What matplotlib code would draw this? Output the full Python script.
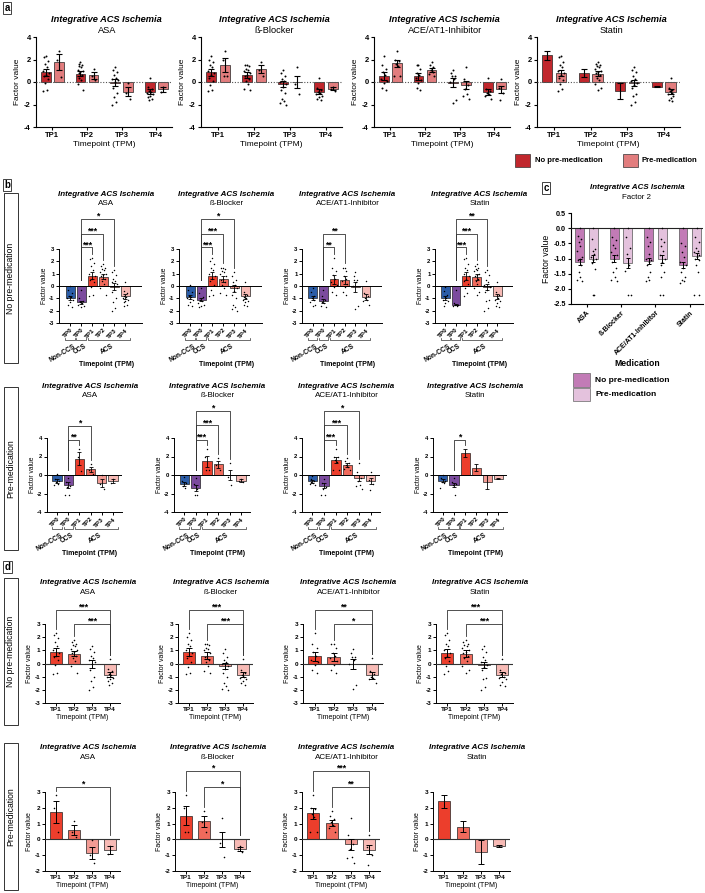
import numpy as np
import matplotlib
matplotlib.use("Agg")
import matplotlib.pyplot as plt
from matplotlib.patches import Rectangle

# ======================= DATA =======================
medications = ["ASA", "ß-Blocker", "ACE/AT1-Inhibitor", "Statin"]
timepoints = ["TP1", "TP2", "TP3", "TP4"]
tp_b_labels = ["TP0", "TP0", "TP1", "TP2", "TP3", "TP4"]
tp_groups = ["Non-CCS", "CCS", "ACS"]
legend_labels = ["No pre-medication", "Pre-medication"]
row_labels = ["No pre-medication", "Pre-medication"]

# ---------- No pre-medication: TP1..TP4 ----------
asa_no_mean = [0.85, 0.75, -0.05, -0.85]
asa_no_sem = [0.30, 0.20, 0.30, 0.20]
asa_no_pts = [
    [2.3, 2.2, 1.9, 1.6, 1.3, 1.0, 0.8, 0.6, 0.5, 0.3, -0.1, -0.7, -0.8],
    [1.8, 1.6, 1.5, 1.4, 1.3, 1.1, 1.0, 0.9, 0.8, 0.6, 0.4, 0.2, -0.2, -0.7],
    [1.3, 1.1, 0.9, 0.6, 0.4, 0.3, 0.15, 0.0, -0.5, -1.0, -1.3, -1.8, -2.0],
    [0.35, -0.4, -0.6, -0.8, -0.9, -1.0, -1.1, -1.2, -1.3, -1.5, -1.6],
]
asa_no_tp0_mean = [-1.0, -1.3]
asa_no_tp0_sem = [0.15, 0.12]
asa_no_tp0_pts = [
    [0.0, -0.3, -0.6, -0.8, -0.9, -1.0, -1.1, -1.3, -1.5, -1.7],
    [-0.3, -1.0, -1.2, -1.3, -1.4, -1.5, -1.6, -1.7],
]

bb_no_mean = [0.85, 0.6, -0.2, -0.85]
bb_no_sem = [0.30, 0.25, 0.25, 0.20]
bb_no_pts = [
    [2.3, 2.0, 1.8, 1.5, 1.3, 1.0, 0.8, 0.6, 0.4, 0.1, -0.3, -0.7, -0.8],
    [1.5, 1.5, 1.4, 1.2, 1.1, 1.0, 0.8, 0.6, 0.5, 0.3, 0.1, -0.2, -0.6, -0.7],
    [1.1, 0.8, 0.5, 0.3, 0.1, 0.0, -0.2, -0.4, -0.7, -1.0, -1.5, -1.7, -1.9, -2.0],
    [0.35, -0.5, -0.7, -0.9, -1.0, -1.1, -1.2, -1.3, -1.5, -1.6],
]
bb_no_tp0_mean = [-0.9, -1.1]
bb_no_tp0_sem = [0.15, 0.15]
bb_no_tp0_pts = [
    [0.05, -0.3, -0.5, -0.8, -0.9, -1.0, -1.1, -1.3, -1.5, -1.6],
    [-0.2, -0.6, -0.9, -1.1, -1.2, -1.4, -1.5, -1.6, -1.7],
]

ace_no_mean = [0.55, 0.5, -0.05, -0.9]
ace_no_sem = [0.35, 0.30, 0.40, 0.25]
ace_no_pts = [
    [2.3, 1.5, 1.2, 0.9, 0.6, 0.3, 0.1, -0.1, -0.5, -0.7],
    [1.5, 1.5, 1.2, 0.8, 0.6, 0.4, 0.2, -0.1, -0.5, -0.7],
    [1.1, 0.8, 0.5, 0.5, 0.3, 0.0, -1.6, -1.9],
    [0.4, -0.6, -0.8, -1.0, -1.1, -1.2, -1.5],
]
ace_no_tp0_mean = [-1.0, -1.2]
ace_no_tp0_sem = [0.15, 0.15]
ace_no_tp0_pts = [
    [-0.2, -0.5, -0.8, -1.0, -1.1, -1.3, -1.5, -1.6],
    [-0.3, -0.8, -1.1, -1.3, -1.4, -1.6, -1.7],
]

sta_no_mean = [0.8, 0.75, -0.1, -0.85]
sta_no_sem = [0.30, 0.25, 0.25, 0.20]
sta_no_pts = [
    [2.3, 2.2, 1.8, 1.5, 1.3, 1.0, 0.8, 0.6, 0.4, 0.2, -0.2, -0.6, -0.8],
    [1.8, 1.6, 1.5, 1.4, 1.3, 1.2, 1.0, 0.9, 0.8, 0.6, 0.4, 0.2, -0.2, -0.5, -0.7],
    [1.3, 1.1, 0.9, 0.5, 0.3, 0.1, -0.1, -0.3, -0.5, -1.1, -1.2, -1.8, -2.0],
    [0.35, -0.5, -0.7, -0.8, -1.0, -1.1, -1.2, -1.4, -1.6, -1.7],
]
sta_no_tp0_mean = [-1.0, -1.5]
sta_no_tp0_sem = [0.15, 0.08]
sta_no_tp0_pts = [
    [-0.1, -0.4, -0.7, -0.9, -1.0, -1.1, -1.2, -1.4, -1.6],
    [-0.3, -1.4, -1.5, -1.5, -1.6, -1.6],
]

# ---------- Pre-medication: TP1..TP4 ----------
asa_pre_mean = [1.75, 0.6, -0.85, -0.65]
asa_pre_sem = [0.70, 0.30, 0.40, 0.25]
asa_pre_pts = [[2.8, 2.0, 0.45], [1.15, 0.5, 0.15], [-0.05, -1.0, -1.5], [-0.4, -0.9]]
asa_pre_tp0_mean = [-0.65, -1.1]
asa_pre_tp0_sem = [0.20, 0.30]
asa_pre_tp0_pts = [[0.1, -0.4, -0.6, -0.8, -1.0, -1.1], [-0.3, -0.8, -1.2, -1.3, -2.2, -2.2]]

bb_pre_mean = [1.5, 1.15, 0.0, -0.6]
bb_pre_sem = [0.60, 0.35, 0.50, 0.15]
bb_pre_pts = [[2.8, 2.0, 0.5, 0.5], [1.8, 1.1, 0.5], [1.35, -0.2, -1.1], [-0.4, -0.6, -0.8]]
bb_pre_tp0_mean = [-0.95, -1.4]
bb_pre_tp0_sem = [0.20, 0.35]
bb_pre_tp0_pts = [[-0.2, -0.6, -0.9, -1.2, -1.4], [-0.3, -1.0, -1.5, -2.2, -2.2]]

ace_pre_mean = [1.65, 1.05, -0.3, -0.65]
ace_pre_sem = [0.35, 0.20, 0.35, 0.30]
ace_pre_pts = [
    [2.8, 2.0, 1.9, 1.6, 1.4, 0.5, 0.5],
    [1.8, 1.5, 1.3, 1.1, 0.9, 0.7, 0.5],
    [1.35, 0.3, -0.3, -0.6, -1.1, -1.2, -1.5],
    [0.3, -0.5, -1.0, -1.6],
]
ace_pre_tp0_mean = [-0.7, -1.15]
ace_pre_tp0_sem = [0.15, 0.30]
ace_pre_tp0_pts = [[-0.1, -0.4, -0.6, -0.8, -0.9, -1.0, -1.1], [-0.4, -0.9, -1.3, -1.5, -2.2, -2.2]]

sta_pre_mean = [2.4, 0.8, -0.8, -0.4]
sta_pre_sem = [0.40, 0.35, 0.75, 0.05]
sta_pre_pts = [[], [], [], []]
sta_pre_tp0_mean = [-0.6, -1.05]
sta_pre_tp0_sem = [0.20, 0.20]
sta_pre_tp0_pts = [[0.0, -0.3, -0.6, -0.8, -0.9, -1.4], [-0.3, -0.8, -1.0, -1.1, -2.2]]

# ---------- Panel c: Factor 2 ----------
c_no_mean = [-1.1, -1.0, -1.07, -1.2]
c_no_sem = [0.10, 0.10, 0.10, 0.10]
c_pre_mean = [-1.0, -1.15, -1.03, -0.93]
c_pre_sem = [0.12, 0.17, 0.13, 0.10]
c_no_pts = [
    [0.0, -0.25, -0.35, -0.45, -0.6, -0.75, -0.95, -1.0, -1.05, -1.2, -1.45, -1.6, -1.7, -1.75],
    [0.0, -0.3, -0.4, -0.55, -0.65, -0.8, -0.9, -1.0, -1.1, -1.3, -1.45, -1.6, -1.7, -1.75],
    [0.0, -0.3, -0.45, -0.6, -0.85, -1.0, -1.05, -1.1, -1.2, -1.45, -1.6, -1.7, -1.75],
    [0.0, -0.5, -0.6, -0.8, -0.95, -1.1, -1.2, -1.3, -1.45, -1.6, -1.7, -1.75, -1.8],
]
c_pre_pts = [
    [0.0, -0.35, -0.7, -0.75, -0.85, -0.95, -1.0, -1.05, -1.15, -1.35, -2.2, -2.2],
    [0.0, -0.3, -0.65, -0.85, -1.2, -1.4, -2.2, -2.2],
    [0.0, -0.35, -0.45, -0.6, -0.75, -0.9, -1.0, -1.1, -1.2, -1.45, -1.6, -2.2, -2.2],
    [0.0, -0.3, -0.45, -0.65, -0.75, -0.8, -0.9, -0.95, -1.0, -1.05, -1.2, -1.45, -2.2, -2.2],
]

no_premed = {
    "ASA": (asa_no_mean, asa_no_sem, asa_no_pts, asa_no_tp0_mean, asa_no_tp0_sem, asa_no_tp0_pts),
    "ß-Blocker": (bb_no_mean, bb_no_sem, bb_no_pts, bb_no_tp0_mean, bb_no_tp0_sem, bb_no_tp0_pts),
    "ACE/AT1-Inhibitor": (ace_no_mean, ace_no_sem, ace_no_pts, ace_no_tp0_mean, ace_no_tp0_sem, ace_no_tp0_pts),
    "Statin": (sta_no_mean, sta_no_sem, sta_no_pts, sta_no_tp0_mean, sta_no_tp0_sem, sta_no_tp0_pts),
}
pre_premed = {
    "ASA": (asa_pre_mean, asa_pre_sem, asa_pre_pts, asa_pre_tp0_mean, asa_pre_tp0_sem, asa_pre_tp0_pts),
    "ß-Blocker": (bb_pre_mean, bb_pre_sem, bb_pre_pts, bb_pre_tp0_mean, bb_pre_tp0_sem, bb_pre_tp0_pts),
    "ACE/AT1-Inhibitor": (ace_pre_mean, ace_pre_sem, ace_pre_pts, ace_pre_tp0_mean, ace_pre_tp0_sem, ace_pre_tp0_pts),
    "Statin": (sta_pre_mean, sta_pre_sem, sta_pre_pts, sta_pre_tp0_mean, sta_pre_tp0_sem, sta_pre_tp0_pts),
}
groups = {"no": no_premed, "pre": pre_premed}
# order of (dark, light) bars per medication in panel a, as in the source
panel_a_order = [("no", "pre"), ("no", "pre"), ("no", "pre"), ("pre", "no")]

# ======================= STYLE =======================
plt.rcParams['font.family'] = ['Liberation Sans', 'DejaVu Sans']
plt.rcParams['font.weight'] = 'bold'
plt.rcParams['axes.unicode_minus'] = False

A_COLS = ["#C1272D", "#E27D7E"]
B_COLS = ["#2B5DA8", "#7B4B9E", "#EC3E2C", "#F06A5C", "#F39C95", "#F7BAB5"]
D_COLS = B_COLS[2:]
C_COLS = ["#C27BB6", "#E4C2DD"]

W, H = 705, 893
fig = plt.figure(figsize=(W / 100, H / 100), dpi=100)


def add_ax(x0, y0, x1, y1):
    return fig.add_axes([x0 / W, 1 - y1 / H, (x1 - x0) / W, (y1 - y0) / H])


def ftext(x, y, s, **kw):
    return fig.text(x / W, 1 - y / H, s, **kw)


def fbox(x0, y0, x1, y1, **kw):
    r = Rectangle((x0 / W, 1 - y1 / H), (x1 - x0) / W, (y1 - y0) / H,
                  transform=fig.transFigure, **kw)
    fig.add_artist(r)


def finish(ax, fs, lw=0.8, tl=2.5):
    for s in ("top", "right"):
        ax.spines[s].set_visible(False)
    for s in ("left", "bottom"):
        ax.spines[s].set_linewidth(lw)
    ax.tick_params(width=lw, length=tl, labelsize=fs, pad=1.2)


PATTERN = [0.0, -0.6, 0.6, -0.3, 0.3, -0.9, 0.9]


def draw_bar(ax, x, m, e, pts, color, width, jit, s=1.6, cap=2.0, elw=0.8,
             edge="#222222", blw=0.5):
    ax.bar(x, m, width=width, color=color, edgecolor=edge, linewidth=blw, zorder=2)
    if len(pts):
        srt = sorted(pts, reverse=True)
        offs = [PATTERN[k % len(PATTERN)] * jit for k in range(len(srt))]
        ax.scatter(np.array(offs) + x, srt, s=s, c="k", linewidths=0, zorder=4)
    ax.errorbar(x, m, yerr=e, fmt="none", ecolor="k", elinewidth=elw,
                capsize=cap, capthick=elw, zorder=5)


def top_of(m, e, pts):
    t = m + e
    if len(pts):
        t = max(t, max(pts))
    return max(t, 0)


def sig(ax, i, j, text, level, tops, gap, fs=6.5, left_min=None):
    yi = min(tops[i] + gap, level)
    if left_min is not None:
        yi = min(max(yi, left_min), level)
    yj = min(tops[j] + gap, level)
    ax.plot([i, i, j, j], [yi, level, level, yj], color="#333333", lw=0.6,
            clip_on=False, zorder=6)
    ax.text((i + j) / 2, level, text, ha="center", va="baseline", fontsize=fs,
            fontweight="bold", clip_on=False)


def titles(ax, sub, y1, y2, fs, x=0.57):
    ax.text(x, y1, "Integrative ACS Ischemia", transform=ax.transAxes, ha="center",
            va="center", fontsize=fs, fontweight="bold", style="italic")
    ax.text(x, y2, sub, transform=ax.transAxes, ha="center", va="center",
            fontsize=fs, fontweight="normal")


# ======================= PANEL a =======================
A_AX = [(36, 37, 172, 127), (201, 37, 342, 127), (374, 37, 510, 127), (537, 37, 680, 127)]
for k, med in enumerate(medications):
    ax = add_ax(*A_AX[k])
    dark, light = panel_a_order[k]
    for gi, (gkey, col, off) in enumerate([(dark, A_COLS[0], -0.19), (light, A_COLS[1], 0.19)]):
        mean, sem, pts = groups[gkey][med][:3]
        for t in range(4):
            draw_bar(ax, t + off, mean[t], sem[t], pts[t], col, 0.28, 0.09,
                     s=2.0, cap=2.2, elw=0.8)
    ax.axhline(0, color="#555555", lw=0.8, ls=(0, (1, 1.5)), zorder=3)
    ax.set_xlim(-0.47, 3.45)
    ax.set_ylim(-4, 4)
    ax.set_yticks([-4, -2, 0, 2, 4])
    ax.set_xticks(range(4))
    ax.set_xticklabels(timepoints)
    finish(ax, 5.5)
    ax.set_xlabel("Timepoint (TPM)", fontsize=6, labelpad=1.5)
    ax.set_ylabel("Factor value", fontsize=6, labelpad=2)
    titles(ax, med, 1.19, 1.07, 6.7, x=0.52)

# legend panel a
fbox(515, 154, 530, 167, facecolor=A_COLS[0], edgecolor="#333333", lw=0.5)
ftext(535, 161, legend_labels[0], fontsize=5.6, va="center", ha="left")
fbox(623, 154, 638, 167, facecolor=A_COLS[1], edgecolor="#333333", lw=0.5)
ftext(641, 161, legend_labels[1], fontsize=5.6, va="center", ha="left")

# ======================= PANEL b =======================
B_AX = [
    [(59, 249, 142, 323), (179, 249, 262, 323), (302, 249, 382, 323), (435, 249, 513, 323)],
    [(47, 438, 122, 512), (174, 438, 250, 512), (302, 438, 380, 512), (433, 438, 507, 512)],
]
B_SIG = [
    [[(1, 4, "*", 5.43), (1, 3, "***", 4.23), (1, 2, "***", 3.14)],
     [(1, 4, "*", 5.43), (1, 3, "***", 4.23), (1, 2, "***", 3.14)],
     [(1, 3, "**", 4.23), (1, 2, "**", 3.14)],
     [(1, 4, "**", 5.43), (1, 3, "***", 4.23), (1, 2, "***", 3.14)]],
    [[(1, 3, "*", 5.3), (1, 2, "**", 3.8)],
     [(1, 4, "*", 6.95), (1, 3, "***", 5.4), (1, 2, "***", 3.8)],
     [(1, 4, "*", 6.95), (1, 3, "***", 5.4), (1, 2, "***", 3.8)],
     [(1, 2, "*", 3.8)]],
]
B_YL = [((-3, 3), [-3, -2, -1, 0, 1, 2, 3]), ((-4, 4), [-4, -2, 0, 2, 4])]
B_XL = [(-1.0, 6.5), (-0.9, 5.8)]
B_GAP = [0.33, 0.43]
B_LEFT = [0.5, 0.55]
B_TY = [(1.73, 1.62), (1.69, 1.58)]

for r, gkey in enumerate(["no", "pre"]):
    for k, med in enumerate(medications):
        ax = add_ax(*B_AX[r][k])
        mean, sem, pts, m0, s0, p0 = groups[gkey][med]
        M = list(m0) + list(mean)
        S = list(s0) + list(sem)
        P = list(p0) + list(pts)
        tops = []
        for i in range(6):
            draw_bar(ax, i, M[i], S[i], P[i], B_COLS[i], 0.82, 0.28,
                     s=1.1, cap=1.5, elw=0.6, blw=0.5)
            tops.append(top_of(M[i], S[i], P[i]))
        ax.axhline(0, color="k", lw=0.7, zorder=3)
        ax.set_xlim(*B_XL[r])
        ax.set_ylim(*B_YL[r][0])
        ax.set_yticks(B_YL[r][1])
        ax.set_xticks(range(6))
        finish(ax, 4.3, lw=0.7, tl=2)
        ax.set_xticklabels(tp_b_labels, rotation=45, ha="right",
                           rotation_mode="anchor", fontsize=4.6)
        ax.set_ylabel("Factor value", fontsize=4.8, labelpad=1)
        trans = ax.get_xaxis_transform()
        yb = -0.235
        for (a, b), name in zip([(0, 0), (1, 1), (2, 5)], tp_groups):
            ax.plot([a - 0.42, a - 0.42, b + 0.42, b + 0.42],
                    [yb + 0.035, yb, yb, yb + 0.035], transform=trans,
                    clip_on=False, color="#333333", lw=0.5)
            ax.text((a + b) / 2 + 0.25, yb - 0.03, name, transform=trans,
                    rotation=30, ha="right", va="top", rotation_mode="anchor",
                    fontsize=4.8)
        ax.text(0.57, -0.555, "Timepoint (TPM)", transform=ax.transAxes,
                ha="center", va="center", fontsize=5)
        for (i, j, txt, lev) in B_SIG[r][k]:
            sig(ax, i, j, txt, lev, tops, B_GAP[r], fs=6.3, left_min=B_LEFT[r])
        titles(ax, med, B_TY[r][0], B_TY[r][1], 5.8)

# ======================= PANEL c =======================
axc = add_ax(571, 213, 703, 304)
for t in range(4):
    draw_bar(axc, t - 0.2, c_no_mean[t], c_no_sem[t], c_no_pts[t], C_COLS[0], 0.26,
             0.085, s=1.4, cap=1.6, elw=0.7, edge="#555555")
    draw_bar(axc, t + 0.2, c_pre_mean[t], c_pre_sem[t], c_pre_pts[t], C_COLS[1], 0.26,
             0.085, s=1.4, cap=1.6, elw=0.7, edge="#555555")
axc.axhline(0, color="#222222", lw=0.8, zorder=3)
axc.set_xlim(-0.45, 3.38)
axc.set_ylim(-2.5, 0.5)
axc.set_yticks([-2.5, -2.0, -1.5, -1.0, -0.5, 0.0, 0.5])
axc.set_yticklabels([f"{v:.1f}" for v in [-2.5, -2.0, -1.5, -1.0, -0.5, 0.0, 0.5]])
axc.set_xticks(range(4))
finish(axc, 5.2)
axc.set_xticklabels(medications, rotation=45, ha="right", rotation_mode="anchor",
                    fontsize=5)
axc.set_ylabel("Factor value", fontsize=6.3, labelpad=1.5)
axc.text(0.5, -0.65, "Medication", transform=axc.transAxes, ha="center",
         va="center", fontsize=6.2)
titles(axc, "Factor 2", 1.275, 1.165, 5.7, x=0.5)
fbox(573, 373, 590, 387, facecolor=C_COLS[0], edgecolor="#666666", lw=0.5)
ftext(595, 380, legend_labels[0], fontsize=6, va="center", ha="left")
fbox(573, 388, 590, 401, facecolor=C_COLS[1], edgecolor="#666666", lw=0.5)
ftext(595, 394.5, legend_labels[1], fontsize=6, va="center", ha="left")

# ======================= PANEL d =======================
D_AX = [
    [(45, 624, 120, 703), (178, 624, 253, 703), (303, 624, 383, 703), (436, 624, 513, 703)],
    [(45, 792, 120, 871), (175, 792, 250, 871), (302, 792, 380, 871), (433, 792, 510, 871)],
]
D_SIG = [
    [[(0, 3, "***", 4.06), (1, 3, "***", 3.02)],
     [(0, 3, "***", 4.06), (1, 3, "***", 3.02)],
     [(0, 3, "**", 4.06), (1, 3, "*", 3.02)],
     [(0, 3, "***", 4.06), (1, 3, "***", 3.02)]],
    [[(0, 3, "*", 3.34)],
     [(0, 3, "*", 4.35), (1, 3, "*", 3.34)],
     [(0, 3, "***", 4.35), (1, 3, "**", 3.34)],
     []],
]
D_YL = [((-3, 3), [-3, -2, -1, 0, 1, 2, 3]), ((-2, 3), [-2, -1, 0, 1, 2, 3])]
D_GAP = [0.3, 0.25]
D_TY = [(1.52, 1.405), (1.557, 1.443)]
for r, gkey in enumerate(["no", "pre"]):
    for k, med in enumerate(medications):
        ax = add_ax(*D_AX[r][k])
        mean, sem, pts = groups[gkey][med][:3]
        tops = []
        for i in range(4):
            draw_bar(ax, i, mean[i], sem[i], pts[i], D_COLS[i], 0.65, 0.2,
                     s=1.3, cap=2.0, elw=0.7, blw=0.5)
            tops.append(top_of(mean[i], sem[i], pts[i]))
        ax.axhline(0, color="#333333", lw=0.8, zorder=3)
        ax.set_xlim(-0.6, 3.57)
        ax.set_ylim(*D_YL[r][0])
        ax.set_yticks(D_YL[r][1])
        ax.set_xticks(range(4))
        ax.set_xticklabels(timepoints)
        finish(ax, 4.6, lw=0.7, tl=2)
        ax.set_xlabel("Timepoint (TPM)", fontsize=5, labelpad=1)
        ax.set_ylabel("Factor value", fontsize=5, labelpad=1)
        for (i, j, txt, lev) in D_SIG[r][k]:
            sig(ax, i, j, txt, lev, tops, D_GAP[r], fs=6.3)
        titles(ax, med, D_TY[r][0], D_TY[r][1], 5.8)

# ======================= frames & panel letters =======================
for (y0, y1, lab) in [(193, 363, row_labels[0]), (387, 550, row_labels[1]),
                      (578, 725, row_labels[0]), (743, 890, row_labels[1])]:
    fbox(4, y0, 18, y1, facecolor="none", edgecolor="#333333", lw=0.7)
    ftext(11, (y0 + y1) / 2, lab, rotation=90, ha="center", va="center",
          fontsize=6.2, fontweight="normal")

for (x, y, s) in [(7, 8, "a"), (7, 185, "b"), (546, 188, "c"), (7.5, 567, "d")]:
    ftext(x, y, s, ha="center", va="center", fontsize=7, fontweight="bold",
          bbox=dict(boxstyle="square,pad=0.15", fc="white", ec="#222222", lw=0.6))

fig.savefig("out.png", dpi=100)
